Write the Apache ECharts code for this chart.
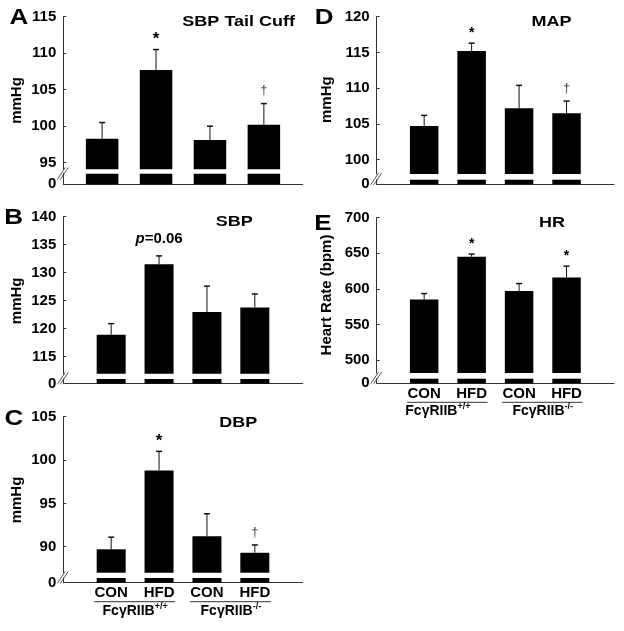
<!DOCTYPE html>
<html><head><meta charset="utf-8">
<script src="https://cdn.jsdelivr.net/npm/echarts@6/dist/echarts.min.js"></script>
<style>html,body{margin:0;padding:0;background:#fff}#c{width:624px;height:631px}</style>
</head><body><div id="c"></div>
<script>
// ---------- data ----------
const categories = ['CON', 'HFD', 'CON', 'HFD'];
const groupNames = ['FcγRIIB', 'FcγRIIB'];
const groupSups = ['+/+', '-/-'];
const breakTicks = [0];

const sbpTailCuffMean = [98.3, 107.7, 98.1, 100.2];
const sbpTailCuffSem = [2.2, 2.8, 1.9, 2.9];
const sbpTailCuffMarks = ['', '*', '', '†'];
const sbpTailCuffTicks = [95, 100, 105, 110, 115];

const sbpMean = [118.9, 131.5, 123.0, 123.8];
const sbpSem = [2.0, 1.5, 4.6, 2.4];
const sbpMarks = ['', 'p=0.06', '', ''];
const sbpTicks = [115, 120, 125, 130, 135, 140];

const dbpMean = [89.7, 98.8, 91.2, 89.3];
const dbpSem = [1.4, 2.2, 2.6, 0.9];
const dbpMarks = ['', '*', '', '†'];
const dbpTicks = [90, 95, 100, 105];

const mapMean = [104.7, 115.2, 107.2, 106.5];
const mapSem = [1.5, 1.1, 3.2, 1.7];
const mapMarks = ['', '*', '', '†'];
const mapTicks = [100, 105, 110, 115, 120];

const hrMean = [585, 645, 597, 616];
const hrSem = [8.4, 3.8, 10.4, 15.9];
const hrMarks = ['', '*', '', '*'];
const hrTicks = [500, 550, 600, 650, 700];

// ---------- layout ----------
const FONT = 'Liberation Sans, Arial, Helvetica, sans-serif';
const panels = [
  {letter: 'A', title: 'SBP Tail Cuff', yName: 'mmHg', mean: sbpTailCuffMean, sem: sbpTailCuffSem, marks: sbpTailCuffMarks, ticks: sbpTailCuffTicks,
   left: 63.3, right: 302.7, top: 16.7, upBottom: 169.3, lowTop: 173.7, bottom: 184.3, yMin: 94.1, xMin: 0.28, xMax: 4.72, barW: 32.5,
   cats: false, letterPos: [18.8, 18], titlePos: [238.7, 21.5], namePos: [17.2, 100.5], starSize: 17},
  {letter: 'B', title: 'SBP', yName: 'mmHg', mean: sbpMean, sem: sbpSem, marks: sbpMarks, ticks: sbpTicks,
   left: 63.3, right: 302.7, top: 216.7, upBottom: 373.7, lowTop: 379, bottom: 383.7, yMin: 111.96, xMin: 0, xMax: 5, barW: 29,
   cats: false, letterPos: [13.7, 218], titlePos: [234.2, 221.7], namePos: [17.2, 300.8], starSize: 16},
  {letter: 'C', title: 'DBP', yName: 'mmHg', mean: dbpMean, sem: dbpSem, marks: dbpMarks, ticks: dbpTicks,
   left: 63.3, right: 302.7, top: 416.7, upBottom: 572.7, lowTop: 578, bottom: 582.7, yMin: 87.0, xMin: 0, xMax: 5, barW: 29,
   cats: true, groupShift: [0, 0], letterPos: [14, 419.2], titlePos: [238.3, 422.5], namePos: [17.2, 500], starSize: 17},
  {letter: 'D', title: 'MAP', yName: 'mmHg', mean: mapMean, sem: mapSem, marks: mapMarks, ticks: mapTicks,
   left: 376.7, right: 614, top: 16.7, upBottom: 174, lowTop: 179.7, bottom: 184.3, yMin: 98.0, xMin: 0, xMax: 5, barW: 28.5,
   cats: false, letterPos: [324.2, 18], titlePos: [551.5, 21.7], namePos: [327.2, 99.7], starSize: 14},
  {letter: 'E', title: 'HR', yName: 'Heart Rate (bpm)', mean: hrMean, sem: hrSem, marks: hrMarks, ticks: hrTicks,
   left: 376.7, right: 614, top: 217.7, upBottom: 373, lowTop: 378.7, bottom: 383.3, yMin: 481.7, xMin: 0, xMax: 5, barW: 28.5,
   cats: true, groupShift: [-10, 0], letterPos: [323, 224.5], titlePos: [552, 222.5], namePos: [327, 295], starSize: 14}
];

const AXIS_COLOR = '#333';
const grid = [], xAxis = [], yAxis = [], series = [];

panels.forEach((p, k) => {
  const up = grid.length, lo = up + 1;
  p.upIdx = up; p.loIdx = lo;
  grid.push({left: p.left, top: p.top, width: p.right - p.left, height: p.upBottom - p.top, containLabel: false, outerBoundsMode: 'none'});
  grid.push({left: p.left, top: p.lowTop, width: p.right - p.left, height: p.bottom - p.lowTop, containLabel: false, outerBoundsMode: 'none'});

  xAxis.push({gridIndex: up, type: 'value', min: p.xMin, max: p.xMax, show: false});
  xAxis.push({gridIndex: lo, type: 'value', min: p.xMin, max: p.xMax,
    axisLine: {show: true, onZero: false, lineStyle: {color: AXIS_COLOR, width: 1}},
    axisTick: {show: false}, splitLine: {show: false},
    axisLabel: p.cats ? {show: true, customValues: [1, 2, 3, 4], formatter: v => categories[Math.round(v) - 1] || '',
      fontSize: 15, fontWeight: 'bold', fontFamily: FONT, color: '#000', margin: 3} : {show: false}});

  yAxis.push({gridIndex: up, type: 'value', min: p.yMin, max: p.ticks[p.ticks.length - 1],
    axisLine: {show: true, lineStyle: {color: AXIS_COLOR, width: 1}},
    axisTick: {show: true, inside: true, length: 3, customValues: p.ticks, lineStyle: {color: AXIS_COLOR}},
    axisLabel: {customValues: p.ticks, fontSize: 15, fontWeight: 'bold', fontFamily: FONT, color: '#000', margin: 7},
    splitLine: {show: false}});
  yAxis.push({gridIndex: lo, type: 'value', min: 0, max: 1,
    axisLine: {show: true, lineStyle: {color: AXIS_COLOR, width: 1}},
    axisTick: {show: false},
    axisLabel: {customValues: breakTicks, fontSize: 15, fontWeight: 'bold', fontFamily: FONT, color: '#000', margin: 7},
    splitLine: {show: false}});

  const barData = p.mean.map((v, i) => [i + 1, v]);
  series.push({type: 'bar', xAxisIndex: up, yAxisIndex: up, data: barData, barWidth: p.barW, clip: true, silent: true,
    itemStyle: {color: '#000'}, animation: false});
  series.push({type: 'bar', xAxisIndex: lo, yAxisIndex: lo, data: barData, barWidth: p.barW, clip: true, silent: true,
    itemStyle: {color: '#000'}, animation: false});
  series.push({type: 'custom', xAxisIndex: up, yAxisIndex: up, clip: false, silent: true, animation: false,
    data: p.mean.map((v, i) => [i + 1, v, p.sem[i]]),
    renderItem: (params, api) => {
      const x = api.value(0), m = api.value(1), s = api.value(2);
      const p0 = api.coord([x, m]), p1 = api.coord([x, m + s]);
      const cap = 3;
      const children = [
        {type: 'line', shape: {x1: p0[0], y1: p0[1], x2: p1[0], y2: p1[1]}, style: {stroke: '#111', lineWidth: 1}},
        {type: 'line', shape: {x1: p1[0] - cap, y1: p1[1], x2: p1[0] + cap, y2: p1[1]}, style: {stroke: '#111', lineWidth: 1.5}}
      ];
      const mk = p.marks[params.dataIndex];
      if (mk === '*') {
        children.push({type: 'text', x: p1[0], y: p1[1] - 10, style: {text: '*', fontSize: p.starSize, fontWeight: 'bold', fontFamily: FONT, fill: '#000', align: 'center', verticalAlign: 'middle'}});
      } else if (mk === '†') {
        children.push({type: 'text', x: p1[0], y: p1[1] - 13, style: {text: '†', fontSize: 13, fontFamily: FONT, fill: '#444', align: 'center', verticalAlign: 'middle'}});
      } else if (mk) {
        const m2 = mk.match(/^p(.*)$/);
        children.push({type: 'text', x: p1[0], y: p1[1] - 17, style: {text: '{i|p}{n|' + m2[1] + '}', fontFamily: FONT, align: 'center', verticalAlign: 'middle',
          rich: {i: {fontSize: 15, fontWeight: 'bold', fontStyle: 'italic', fontFamily: FONT, fill: '#000'}, n: {fontSize: 15, fontWeight: 'bold', fontFamily: FONT, fill: '#000'}}}});
      }
      return {type: 'group', children};
    }});
});

const chart = echarts.init(document.getElementById('c'), null, {renderer: 'canvas'});
chart.setOption({animation: false, backgroundColor: '#fff', grid, xAxis, yAxis, series});

// ---------- decorations (titles, letters, axis names, breaks, group labels) ----------
const graphic = [];
panels.forEach(p => {
  graphic.push({type: 'text', x: p.letterPos[0], y: p.letterPos[1], scaleY: 0.83,
    style: {text: p.letter, fontSize: 26, fontWeight: 'bold', fontFamily: FONT, fill: '#000', align: 'center', verticalAlign: 'middle'}});
  graphic.push({type: 'text', x: p.titlePos[0], y: p.titlePos[1], scaleY: 0.85,
    style: {text: p.title, fontSize: 18, fontWeight: 'bold', fontFamily: FONT, fill: '#000', align: 'center', verticalAlign: 'middle'}});
  graphic.push({type: 'text', x: p.namePos[0], y: p.namePos[1], rotation: Math.PI / 2,
    style: {text: p.yName, fontSize: 15, fontWeight: 'bold', fontFamily: FONT, fill: '#000', align: 'center', verticalAlign: 'middle'}});
  const mid = (p.upBottom + p.lowTop) / 2 + 2;
  [0, 3].forEach(dx => graphic.push({type: 'line', shape: {x1: p.left - 6 + dx, y1: mid + 6, x2: p.left + 2 + dx, y2: mid - 6},
    style: {stroke: '#555', lineWidth: 1}}));
  if (p.cats) {
    const cx = v => chart.convertToPixel({xAxisIndex: p.loIdx}, v);
    [[1, 2], [3, 4]].forEach((pair, g) => {
      const a = cx(pair[0]), b = cx(pair[1]);
      graphic.push({type: 'line', shape: {x1: a - 17, y1: p.bottom + 19, x2: b + 16, y2: p.bottom + 19}, style: {stroke: '#333', lineWidth: 1}});
      graphic.push({type: 'text', x: (a + b) / 2 + p.groupShift[g], y: p.bottom + 28,
        style: {text: '{m|' + groupNames[g] + '}{s|' + groupSups[g] + '}', align: 'center', verticalAlign: 'middle',
          rich: {m: {fontSize: 14, fontWeight: 'bold', fontFamily: FONT, fill: '#000'},
                 s: {fontSize: 9, fontWeight: 'bold', fontFamily: FONT, fill: '#000', padding: [0, 0, 9, 0]}}}});
    });
  }
});
chart.setOption({graphic});
</script></body></html>
